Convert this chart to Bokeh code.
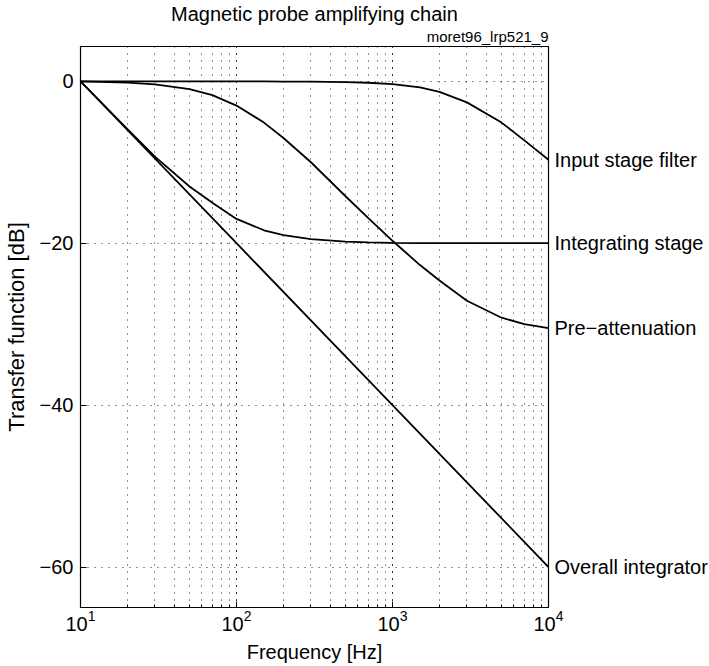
from bokeh.plotting import figure
from bokeh.models import Title, FixedTicker, Range1d, LinearAxis
from bokeh.embed import file_html
from bokeh.resources import INLINE

# Frequency points [Hz]
freq = [10, 20, 30, 50, 70, 100, 150, 200, 300, 500, 700, 1000, 1500, 2000, 3000, 5000, 7000, 10000]

# Transfer functions [dB]
input_stage_filter = [0, 0, 0, 0, 0, 0, -0.02, -0.03, -0.05, -0.1, -0.18, -0.35, -0.75, -1.3, -2.6, -5.1, -7.3, -9.7]
integrating_stage = [0, -5.9, -9.3, -13.0, -15.0, -17.0, -18.4, -19.0, -19.5, -19.8, -19.9, -19.96, -20, -20, -20, -20, -20, -20]
pre_attenuation = [0, -0.17, -0.37, -0.97, -1.7, -3.0, -5.1, -7.0, -10.0, -14.2, -16.9, -19.7, -22.7, -24.6, -27.1, -29.2, -30.0, -30.5]
overall_freq = [10, 100, 1000, 10000]
overall_integrator = [0, -20, -40, -60]

series = [
    ("Input stage filter", freq, input_stage_filter),
    ("Integrating stage", freq, integrating_stage),
    ("Pre\u2212attenuation", freq, pre_attenuation),
    ("Overall integrator", overall_freq, overall_integrator),
]

y_ticks = [-60, -40, -20, 0]

FONT = "Liberation Sans"

p = figure(
    x_axis_type="log",
    frame_width=468, frame_height=561,
    min_border_left=76, min_border_right=165, min_border_top=40, min_border_bottom=55,
    output_backend="svg", toolbar_location=None,
    x_range=Range1d(10, 10000), y_range=Range1d(-65, 4.3),
    background_fill_color=None, border_fill_color="white",
)

p.title.text = "Magnetic probe amplifying chain"
p.title.align = "center"
p.title.text_font = FONT
p.title.text_font_size = "20px"
p.title.text_font_style = "normal"
p.title.text_color = "black"
p.title.standoff = 0

p.add_layout(Title(text="moret96_lrp521_9", align="right", text_font=FONT,
                   text_font_size="15px", text_font_style="normal",
                   text_color="black", standoff=3), "above")

p.outline_line_color = "black"
p.outline_line_width = 1.2

# axes
for ax in (p.xaxis[0], p.yaxis[0]):
    ax.axis_line_color = "black"
    ax.major_tick_line_color = "black"
    ax.minor_tick_line_color = "black"
    ax.major_tick_in = 6
    ax.major_tick_out = 0
    ax.minor_tick_in = 3
    ax.minor_tick_out = 0
    ax.major_label_text_font = FONT
    ax.major_label_text_font_size = "20px"
    ax.major_label_text_color = "black"
    ax.axis_label_text_font = FONT
    ax.axis_label_text_font_style = "normal"
    ax.axis_label_text_color = "black"

xax = p.xaxis[0]
xax.axis_label = "Frequency [Hz]"
xax.axis_label_text_font_size = "20px"
xax.axis_label_standoff = 7
xax.major_label_standoff = 2

yax = p.yaxis[0]
yax.axis_label = "Transfer function [dB]"
yax.axis_label_text_font_size = "22px"
yax.axis_label_standoff = 8
yax.major_label_standoff = 7
yax.ticker = FixedTicker(ticks=y_ticks)
yax.minor_tick_line_color = None
yax.major_label_overrides = {t: str(t).replace("-", "\u2212") for t in y_ticks}

# curve names written at each curve's end value on the right-hand side
ends = [s[2][-1] for s in series]
right = LinearAxis(
    ticker=FixedTicker(ticks=ends),
    major_label_overrides={v: s[0] for v, s in zip(ends, series)},
    major_tick_line_color=None, minor_tick_line_color=None,
    major_tick_in=0, major_tick_out=0, minor_tick_in=0, minor_tick_out=0,
    axis_line_color="black",
    major_label_standoff=6,
    major_label_text_font=FONT, major_label_text_font_size="20px",
    major_label_text_color="black",
)
p.add_layout(right, "right")

# dotted grid at every decade subdivision
p.xgrid.grid_line_color = "black"
p.xgrid.grid_line_dash = "1 6"
p.xgrid.grid_line_alpha = 0.85
p.xgrid.minor_grid_line_color = "black"
p.xgrid.minor_grid_line_dash = "1 6"
p.xgrid.minor_grid_line_alpha = 0.85
p.ygrid.grid_line_color = "black"
p.ygrid.grid_line_dash = "1 6"
p.ygrid.grid_line_alpha = 0.85

for name, fx, fy in series:
    p.line(fx, fy, line_color="black", line_width=1.8)

open("out.html", "w").write(file_html(p, INLINE))
